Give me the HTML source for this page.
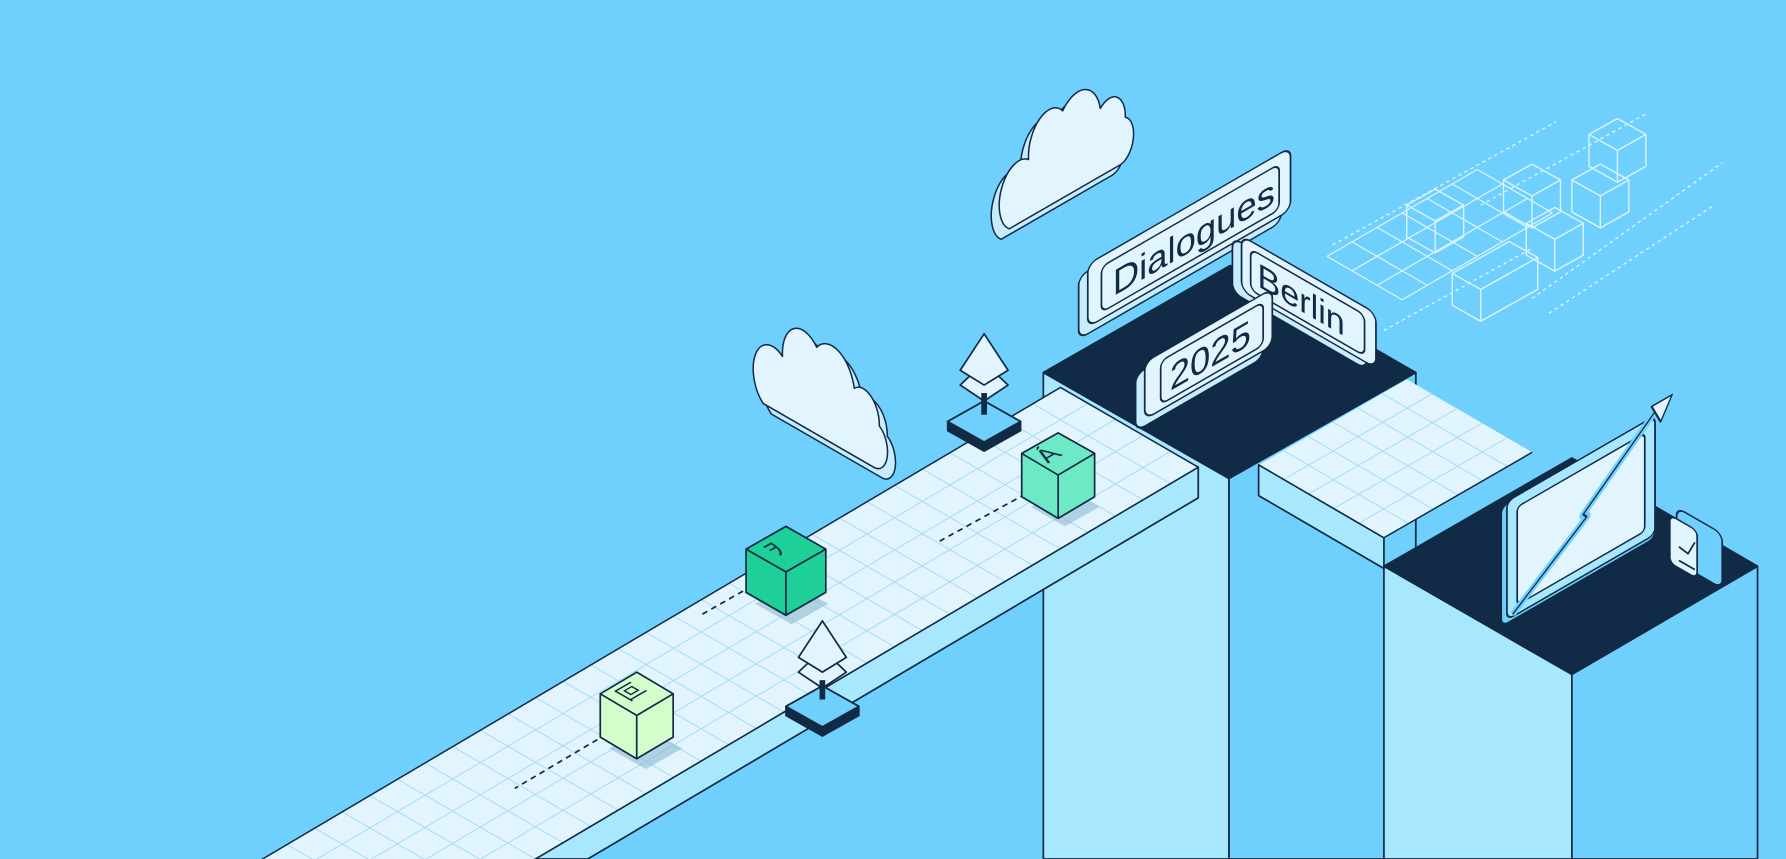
<!DOCTYPE html>
<html><head><meta charset="utf-8"><style>
html,body{margin:0;padding:0;background:#6fd0fd;width:1786px;height:859px;overflow:hidden;}
svg{display:block;}
text{font-family:"Liberation Sans","Noto Sans CJK JP",sans-serif;}
</style></head><body>
<svg width="1786" height="859" viewBox="0 0 1568 754" preserveAspectRatio="none" xmlns="http://www.w3.org/2000/svg">
<rect width="1568" height="754" fill="#6fd0fd"/>
<g stroke="#112a45" stroke-width="1.5" stroke-linejoin="round">

<g stroke="#eaf8ff" stroke-width="1.2" fill="none" opacity="0.9">
 <g transform="matrix(22,-12.7,22,12.7,1165,225)">
  <path vector-effect="non-scaling-stroke" d="M0,0H6M0,1H6M0,2H6M0,3H6M0,0V3M1,0V3M2,0V3M3,0V3M4,0V3M5,0V3M6,0V3"/>
 </g>
 <path stroke-dasharray="3,3" d="M1170,215L1366,107M1300,180L1445,100M1345,262L1512,143M1360,275L1505,180M1215,290L1345,218"/>
 <path d="M1235,180l25,-14l25,14v28l-25,14l-25,-14zM1235,180l25,14l25,-14M1260,194v28"/>
 <path d="M1320,158l25,-14l25,14v28l-25,14l-25,-14zM1320,158l25,14l25,-14M1345,172v28"/>
 <path d="M1395,118l25,-14l25,14v28l-25,14l-25,-14zM1395,118l25,14l25,-14M1420,132v28"/>
 <path d="M1380,158l25,-14l25,14v28l-25,14l-25,-14zM1380,158l25,14l25,-14M1405,172v28"/>
 <path d="M1340,196l25,-14l25,14v28l-25,14l-25,-14zM1340,196l25,14l25,-14M1365,210v28"/>
 <path d="M1275,240l50,-28l25,14v28l-50,28l-25,-14zM1275,240l25,14l50,-28M1300,254v28"/>
</g>

<polygon points="916,327 1079,420 1079,754 916,754" fill="#a8e8ff"/>
<polygon points="1079,420 1243,327 1243,754 1079,754" fill="#6fd0fd"/>
<polygon points="916,327 1080,233 1243,327 1079,420" fill="#112a45"/>

<polygon points="1215,497 1380,592 1380,754 1215,754" fill="#a8e8ff"/>
<polygon points="1380,592 1543,497 1543,754 1380,754" fill="#6fd0fd"/>

<polygon points="1105,408 1215,472 1215,499 1105,435" fill="#a8e8ff"/>
<g transform="matrix(22,12.8,21.7,-12.5,1105,408)">
 <rect x="0" y="0" width="5" height="6" fill="#e2f5fe" stroke="none"/>
 <path vector-effect="non-scaling-stroke" stroke="#a6dcf5" stroke-width="1" fill="none" d="M1,0V6M2,0V6M3,0V6M4,0V6M0,1H5M0,2H5M0,3H5M0,4H5M0,5H5"/>
 <path vector-effect="non-scaling-stroke" fill="none" d="M0,0H5V6"/>
</g>
<polygon points="1215,497 1380,402 1543,497 1380,592" fill="#112a45"/>

<polygon points="470,754 1052,410 1052,437 516,754" fill="#a8e8ff"/>
<g transform="matrix(24.25,-14.33,-24.2,-14,470,754)">
 <rect x="-12" y="0" width="36" height="5" fill="#e2f5fe" stroke="none"/>
 <path vector-effect="non-scaling-stroke" stroke="#a6dcf5" stroke-width="1" fill="none" d="M-11,0V5M-10,0V5M-9,0V5M-8,0V5M-7,0V5M-6,0V5M-5,0V5M-4,0V5M-3,0V5M-2,0V5M-1,0V5M0,0V5M1,0V5M2,0V5M3,0V5M4,0V5M5,0V5M6,0V5M7,0V5M8,0V5M9,0V5M10,0V5M11,0V5M12,0V5M13,0V5M14,0V5M15,0V5M16,0V5M17,0V5M18,0V5M19,0V5M20,0V5M21,0V5M22,0V5M23,0V5M-12,1H24M-12,2H24M-12,3H24M-12,4H24"/>
 <path vector-effect="non-scaling-stroke" fill="none" d="M-12,0H24V5H-12"/>
</g>

<g transform="matrix(1,-0.577,0,1.7,878,146)">
 <path transform="translate(-7,3)" d="M8,35H105A12,12 0 0 0 110,12A14,14 0 0 0 88,0A20,20 0 0 0 55,-10A18,18 0 0 0 25,5A16,16 0 0 0 8,35Z" fill="#c6ecfd" vector-effect="non-scaling-stroke"/>
 <path d="M8,35H105A12,12 0 0 0 110,12A14,14 0 0 0 88,0A20,20 0 0 0 55,-10A18,18 0 0 0 25,5A16,16 0 0 0 8,35Z" fill="#e2f5fe" vector-effect="non-scaling-stroke"/>
</g>
<g transform="matrix(1,0.577,0,1.7,662,290)">
 <path transform="translate(7,3)" d="M8,35H105A12,12 0 0 0 110,12A14,14 0 0 0 88,0A20,20 0 0 0 55,-10A18,18 0 0 0 25,5A16,16 0 0 0 8,35Z" fill="#c6ecfd" vector-effect="non-scaling-stroke"/>
 <path d="M8,35H105A12,12 0 0 0 110,12A14,14 0 0 0 88,0A20,20 0 0 0 55,-10A18,18 0 0 0 25,5A16,16 0 0 0 8,35Z" fill="#e2f5fe" vector-effect="non-scaling-stroke"/>
</g>

<g>
 <polygon points="832,370 864,352 896,370 896,378 864,396 832,378" fill="#112a45"/>
 <polygon points="832,370 864,352 896,370 864,388" fill="#6fd0fd"/>
 <polygon points="864,318 885,338 864,352 843,338" fill="#e2f5fe"/>
 <polygon points="864,293 885,325 864,338 843,325" fill="#e2f5fe"/>
 <line x1="864" y1="345" x2="864" y2="364" stroke-width="5"/>
</g>
<g>
 <polygon points="690,620 722,602 754,620 754,628 722,646 690,628" fill="#112a45"/>
 <polygon points="690,620 722,602 754,620 722,638" fill="#6fd0fd"/>
 <polygon points="722,570 743,590 722,604 701,590" fill="#e2f5fe"/>
 <polygon points="722,545 743,577 722,590 701,577" fill="#e2f5fe"/>
 <line x1="722" y1="597" x2="722" y2="614" stroke-width="5"/>
</g>

<g fill="none" stroke-dasharray="5,4" stroke-width="1.5">
 <path d="M916,425L825,475M668,510L615,540M540,640L452,692"/>
</g>

<polygon points="905,445 935,428 965,445 935,462" fill="#8fb9cf" opacity="0.6" stroke="none"/>
<polygon points="897,398 929,380 961,398 961,436 929,455 897,436" fill="#6ee9c5"/>
<path d="M897,398L929,417L961,398M929,417V455" fill="none"/>
<text x="0" y="0" font-size="20" fill="#112a45" stroke="none" transform="matrix(1,-0.577,1,0.577,920,407)">Á</text>

<polygon points="663,530 695,512 727,530 695,548" fill="#8fb9cf" opacity="0.6" stroke="none"/>
<polygon points="655,482 690,462 725,482 725,520 690,540 655,520" fill="#1fcf98"/>
<path d="M655,482L690,502L725,482M690,502V540" fill="none"/>
<text x="0" y="0" font-size="20" fill="#112a45" stroke="none" transform="matrix(1,-0.577,1,0.577,682,489)">ｦ</text>

<polygon points="535,657 567,639 599,657 567,675" fill="#8fb9cf" opacity="0.6" stroke="none"/>
<polygon points="527,609 559,590 591,609 591,647 559,666 527,647" fill="#d5fccb"/>
<path d="M527,609L559,628L591,609M559,628V666" fill="none"/>
<text x="0" y="0" font-size="18" fill="#112a45" stroke="none" transform="matrix(1,-0.577,1,0.577,551,616)">叵</text>

<g transform="matrix(1,-0.577,0,1,955,232)">
 <rect x="-8" y="6" width="178" height="55" rx="8" fill="#c6ecfd"/>
 <rect x="0" y="0" width="178" height="55" rx="8" fill="#e2f5fe"/>
 <rect x="12" y="9" width="156" height="40" rx="6" fill="none"/>
 <text x="22" y="41" font-size="32" fill="#112a45" stroke="none">Dialogues</text>
</g>
<g transform="matrix(1,0.577,0,1,1090,207)">
 <rect x="-8" y="6" width="118" height="48" rx="8" fill="#c6ecfd"/>
 <rect x="0" y="0" width="118" height="48" rx="8" fill="#e2f5fe"/>
 <rect x="8" y="7" width="100" height="36" rx="6" fill="none"/>
 <text x="14" y="36" font-size="30" fill="#112a45" stroke="none">Berlin</text>
</g>
<g transform="matrix(1,-0.577,0,1,1005,318)">
 <rect x="-8" y="6" width="112" height="50" rx="8" fill="#c6ecfd"/>
 <rect x="0" y="0" width="112" height="50" rx="8" fill="#e2f5fe"/>
 <rect x="14" y="7" width="90" height="38" rx="6" fill="none"/>
 <text x="22" y="38" font-size="32" fill="#112a45" stroke="none">2025</text>
</g>

<g transform="matrix(1,-0.577,0,1,1318,445)">
 <rect x="0" y="0" width="135" height="105" rx="6" fill="#6fd0fd"/>
 <rect x="5" y="-2" width="130" height="104" rx="6" fill="#a8e8ff"/>
 <rect x="14" y="8" width="112" height="86" rx="4" fill="#e2f5fe"/>
 <path d="M10,100L75,52L72,48L140,-10" fill="none" stroke="#6fd0fd" stroke-width="7"/>
 <path d="M10,100L75,52L72,48L140,-10" fill="none" stroke-width="1.5"/>
 <polygon points="132,-12 150,-12 140,6" fill="#e2f5fe"/>
</g>
<g transform="matrix(1,0.577,0,1,1466,452)">
 <rect x="6" y="-10" width="40" height="48" rx="7" fill="#6fd0fd"/>
 <rect x="0" y="0" width="24" height="42" rx="5" fill="#e2f5fe"/>
</g>
<path d="M1474,480l8,6l6,-10M1474,492l14,8" fill="none" stroke-width="1.5"/>

</g>
</svg>
</body></html>
